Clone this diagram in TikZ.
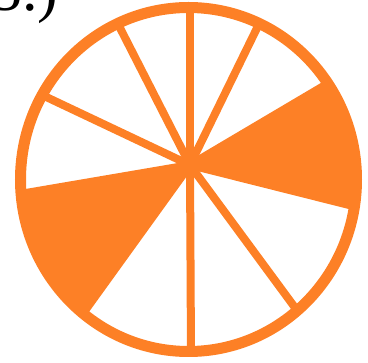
\documentclass[tikz,border=0pt]{standalone}
\usepackage{fontspec}
\setmainfont{Liberation Serif}
\usetikzlibrary{calc}
\definecolor{orng}{RGB}{253,128,38}
\begin{document}
\begin{tikzpicture}[x=1pt,y=-1pt,
  spoke/.style={draw=orng,line width=8pt},
  ring/.style={draw=orng,line width=11pt},
  wedge/.style={fill=orng}]
\useasboundingbox (0,0) rectangle (368,363);
\clip (0,0) rectangle (368,363);
\node[anchor=base west,inner sep=0pt,font=\fontsize{62}{70}\selectfont] (lbl) at (-9,11) {5.)};
\coordinate (c) at (188.5,179.5);
\coordinate (hub) at (190,165);
\coordinate (t) at (190,4);
\coordinate (b) at (191,355);
\coordinate (ul) at (118,24);
\coordinate (ur) at (259,24);
\coordinate (l) at (42,95);
\coordinate (a1) at (327,84);
\coordinate (a2) at (353,206);
\coordinate (b1) at (20,194);
\coordinate (b2) at (84,312);
\coordinate (lr) at (296,309);
\begin{scope}
  \clip (c) ellipse [x radius=170pt, y radius=174pt];
  \fill[wedge] (hub) -- ($(hub)!3!(a1)$) -- ($(hub)!3!(a2)$) -- cycle;
  \fill[wedge] (hub) -- ($(hub)!3!(b1)$) -- ($(hub)!3!(b2)$) -- cycle;
\end{scope}
\draw[spoke] (hub) -- (t);
\draw[spoke] (hub) -- (b);
\draw[spoke] (hub) -- (ul);
\draw[spoke] (hub) -- (ur);
\draw[spoke] (hub) -- (l);
\draw[spoke] (hub) -- (lr);
\draw[spoke] (hub) -- (a1);
\draw[spoke] (hub) -- (a2);
\draw[spoke] (hub) -- (b1);
\draw[spoke] (hub) -- (b2);
\draw[ring] (c) ellipse [x radius=168pt, y radius=172pt];
\end{tikzpicture}
\end{document}
